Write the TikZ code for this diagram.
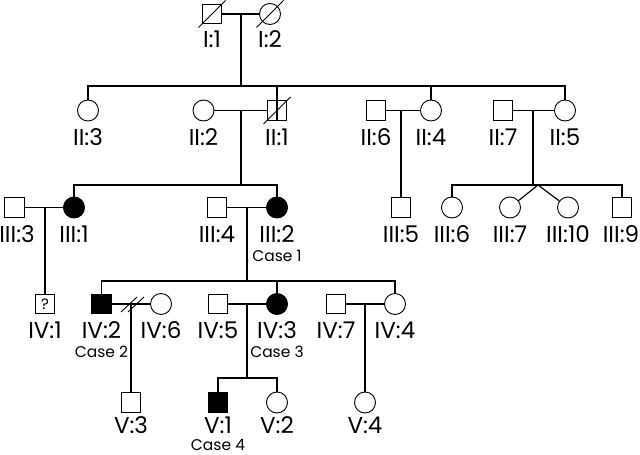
\documentclass[tikz,border=0pt]{standalone}
\usepackage{fontspec}
\setmainfont{Poppins}
\begin{document}
\begin{tikzpicture}[x=1pt,y=-1pt,line width=1.15pt,
  male/.style={draw,rectangle,minimum size=19.5pt,inner sep=0pt,line width=0.9pt},
  female/.style={draw,circle,minimum size=21pt,inner sep=0pt,line width=0.9pt},
  aff/.style={fill=black},
  lab/.style={font=\fontsize{23}{23}\selectfont,anchor=base,inner sep=0pt},
  caselab/.style={font=\fontsize{15.5}{15.5}\selectfont,anchor=base,inner sep=0pt},
  dec/.style={line width=0.9pt}]
\useasboundingbox (0,0) rectangle (640,455);

% ---------- Generation I ----------
\node[male] (I1) at (212,14) {};
\node[female] (I2) at (270,14) {};
\draw (I1) -- (I2);
\coordinate (mI) at (241,14);
\coordinate (sII) at (241,86);
\draw (mI) -- (sII);
\draw[dec] (I1) ++(-13.5,13.5) -- ++(27,-27);
\draw[dec] (I2) ++(-13.5,13.5) -- ++(27,-27);
\node[lab] (lI1) at (212,47) {I:1};
\node[lab] (lI2) at (270,47) {I:2};

% ---------- Generation II ----------
\node[female] (II3) at (88,110.5) {};
\node[female] (II2) at (203.5,110.5) {};
\node[male]   (II1) at (277,110.5) {};
\node[male]   (II6) at (376,110.5) {};
\node[female] (II4) at (431,110.5) {};
\node[male]   (II7) at (503,110.5) {};
\node[female] (II5) at (565,110.5) {};
\draw (II3.north) |- (sII) -| (II5.north);
\draw (II1.south) -- (II1 |- sII);
\draw (II4.north) -- (II4 |- sII);
\draw[dec] (II1) ++(-13.5,13.5) -- ++(27,-27);
\draw (II2) -- (II1);
\draw (II6) -- (II4);
\draw (II7) -- (II5);
\coordinate (mII21) at (241,110.5);
\coordinate (sIII) at (241,185);
\draw (mII21) -- (sIII);
\coordinate (mII64) at (401,110.5);
\coordinate (mII75) at (533,110.5);
\coordinate (sIIIb) at (533,185);
\draw (mII75) -- (sIIIb);
\node[lab] (lII3) at (88,145) {II:3};
\node[lab] (lII2) at (203.5,145) {II:2};
\node[lab] (lII1) at (277,145) {II:1};
\node[lab] (lII6) at (376,145) {II:6};
\node[lab] (lII4) at (431,145) {II:4};
\node[lab] (lII7) at (503,145) {II:7};
\node[lab] (lII5) at (565,145) {II:5};

% ---------- Generation III ----------
\node[male]       (III3) at (14.5,207.5) {};
\node[female,aff] (III1) at (74,207.5) {};
\node[male]       (III4) at (217,207.5) {};
\node[female,aff] (III2) at (277,207.5) {};
\node[male]       (III5) at (401,207.5) {};
\node[female]     (III6) at (452,207.5) {};
\node[female]     (III7) at (510,207.5) {};
\node[female]     (III10) at (568,207.5) {};
\node[male]       (III9) at (622,207.5) {};
\draw (III1.north) |- (sIII) -| (III2.north);
\draw (mII64) -- (III5.north);
\draw (III6.north) |- (sIIIb) -| (III9.north);
\coordinate (tw) at (538,185);
\draw (tw) -- (III7);
\draw (tw) -- (III10);
\draw (III3) -- (III1);
\draw (III4) -- (III2);
\coordinate (mIII31) at (45,207.5);
\coordinate (mIII42) at (247,207.5);
\coordinate (sIV) at (247,281);
\draw (mIII42) -- (sIV);
\node[lab] (lIII3) at (17,242) {III:3};
\node[lab] (lIII1) at (74,242) {III:1};
\node[lab] (lIII4) at (217,242) {III:4};
\node[lab] (lIII2) at (277,242) {III:2};
\node[caselab] (cIII2) at (277,261) {Case 1};
\node[lab] (lIII5) at (401,242) {III:5};
\node[lab] (lIII6) at (452,242) {III:6};
\node[lab] (lIII7) at (510,242) {III:7};
\node[lab] (lIII10) at (568,242) {III:10};
\node[lab] (lIII9) at (621,242) {III:9};

% ---------- Generation IV ----------
\node[male,font=\fontsize{15}{15}\selectfont] (IV1) at (45,304) {?};
\node[male,aff]   (IV2) at (101.5,304) {};
\node[female]     (IV6) at (161,304) {};
\node[male]       (IV5) at (218,304) {};
\node[female,aff] (IV3) at (277,304) {};
\node[male]       (IV7) at (336,304) {};
\node[female]     (IV4) at (395,304) {};
\draw (mIII31) -- (IV1.north);
\draw (IV2.north) |- (sIV) -| (IV4.north);
\draw (IV3.north) -- (IV3 |- sIV);
\draw (IV2) -- (IV6);
\draw (IV5) -- (IV3);
\draw (IV7) -- (IV4);
\coordinate (dv) at (131,304);
\draw[dec] (dv) ++(-10,8) -- ++(16,-15);
\draw[dec] (dv) ++(-3,8) -- ++(16,-15);
\coordinate (mIV53) at (247,304);
\coordinate (sV) at (247,378);
\draw (mIV53) -- (sV);
\coordinate (mIV74) at (365,304);
\node[lab] (lIV1) at (45,338) {IV:1};
\node[lab] (lIV2) at (101.5,338) {IV:2};
\node[caselab] (cIV2) at (101.5,357) {Case 2};
\node[lab] (lIV6) at (161,338) {IV:6};
\node[lab] (lIV5) at (218,338) {IV:5};
\node[lab] (lIV3) at (277,338) {IV:3};
\node[caselab] (cIV3) at (277,357) {Case 3};
\node[lab] (lIV7) at (336,338) {IV:7};
\node[lab] (lIV4) at (395,338) {IV:4};

% ---------- Generation V ----------
\node[male]     (V3) at (131,402.5) {};
\node[male,aff] (V1) at (218,402.5) {};
\node[female]   (V2) at (277,402.5) {};
\node[female]   (V4) at (365,402.5) {};
\draw (dv) -- (V3.north);
\draw (V1.north) |- (sV) -| (V2.north);
\draw (mIV74) -- (V4.north);
\node[lab] (lV3) at (131,433) {V:3};
\node[lab] (lV1) at (218,433) {V:1};
\node[caselab] (cV1) at (218,450) {Case 4};
\node[lab] (lV2) at (277,433) {V:2};
\node[lab] (lV4) at (365,433) {V:4};
\end{tikzpicture}
\end{document}
